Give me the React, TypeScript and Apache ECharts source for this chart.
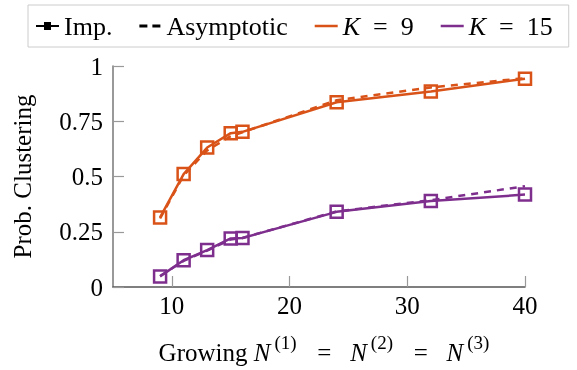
import React, { useEffect, useRef } from "react";
import * as echarts from "echarts";

const nValues = [9, 11, 13, 15, 16, 24, 32, 40];
const k9Imp = [0.315, 0.511, 0.631, 0.696, 0.702, 0.836, 0.885, 0.942];
const k9Asym = [0.31, 0.505, 0.618, 0.683, 0.7, 0.845, 0.903, 0.945];
const k15Imp = [0.048, 0.121, 0.167, 0.22, 0.222, 0.34, 0.389, 0.418];
const k15Asym = [0.05, 0.118, 0.165, 0.215, 0.222, 0.342, 0.393, 0.456];
const xTicks = [10, 20, 30, 40];
const legendNames = ["Imp.", "Asymptotic", "K9", "K15"];

const ORANGE = "#D95319";
const PURPLE = "#7E2F8E";
const FONT = "serif";

const pairs = (ys: number[]) => nValues.map((x, i) => [x, ys[i]]);

const ICON_IMP = "path://M0,4 L23,4 L23,6 L0,6 Z M8,1 L15,1 L15,9 L8,9 Z";
const ICON_DASH = "path://M0,3.5 L8,3.5 L8,6.5 L0,6.5 Z M13,3.5 L21,3.5 L21,6.5 L13,6.5 Z M0,0 L0,0.01 L0.01,0 Z M0,10 L0,9.99 L0.01,10 Z";
const ICON_LINE = "path://M0,3.8 L23,3.8 L23,6.2 L0,6.2 Z M0,0 L0,0.01 L0.01,0 Z M0,10 L0,9.99 L0.01,10 Z";

export default function App() {
  const ref = useRef<HTMLDivElement>(null);
  useEffect(() => {
    const chart = echarts.init(ref.current!, null, { renderer: "svg" });
    const impSeries = (name: string, color: string, ys: number[]) => ({
      name,
      type: "line",
      data: pairs(ys),
      symbol: "rect",
      symbolSize: 12,
      z: 3,
      lineStyle: { color, width: 2.5 },
      itemStyle: { color: "rgba(0,0,0,0)", borderColor: color, borderWidth: 2.5 },
    });
    const asymSeries = (name: string, color: string, ys: number[]) => ({
      name,
      type: "line",
      data: pairs(ys),
      symbol: "none",
      z: 2,
      lineStyle: { color, width: 2.5, type: [7, 6] },
    });
    const dummy = (name: string, color: string) => ({
      name,
      type: "line",
      data: [],
      symbol: "none",
      lineStyle: { color, width: 2.5 },
      itemStyle: { color },
    });
    const richBase = { fontFamily: FONT, fontSize: 25, color: "#000" };
    const legendBase = { fontFamily: FONT, fontSize: 26, color: "#000" };
    chart.setOption({
      animation: false,
      textStyle: { fontFamily: FONT },
      grid: { left: 113, right: 52, top: 66, bottom: 82 },
      legend: {
        data: [
          { name: legendNames[0], icon: ICON_IMP },
          { name: legendNames[1], icon: ICON_DASH },
          { name: legendNames[2], icon: ICON_LINE },
          { name: legendNames[3], icon: ICON_LINE },
        ],
        left: 28,
        top: 5,
        width: 545,
        padding: [8, 16, 8, 8],
        itemGap: 27,
        itemWidth: 23,
        itemHeight: 10,
        borderColor: "#cccccc",
        borderWidth: 1,
        selectedMode: false,
        textStyle: {
          ...legendBase,
          rich: {
            t: { ...legendBase },
            i: { ...legendBase, fontStyle: "italic" },
          },
        },
        formatter: (name: string) => {
          if (name === "K9") return "{i|K}{t|  =  9}";
          if (name === "K15") return "{i|K}{t|  =  15}";
          return "{t|" + name + "}";
        },
      },
      xAxis: {
        type: "value",
        min: 5,
        max: 40,
        name: "{t|Growing }{i|N}{s|(1)}{t|   =   }{i|N}{s|(2)}{t|   =   }{i|N}{s|(3)}",
        nameLocation: "middle",
        nameGap: 46,
        nameTextStyle: {
          ...richBase,
          verticalAlign: "top",
          padding: [0, 0, 0, 12],
          rich: {
            t: { ...richBase, lineHeight: 32, verticalAlign: "bottom" },
            i: { ...richBase, fontStyle: "italic", lineHeight: 32, verticalAlign: "bottom", padding: [0, 1, 0, 0] },
            s: { ...richBase, fontSize: 19, lineHeight: 18, verticalAlign: "top", padding: [0, 2, 0, 3] },
          },
        },
        axisLine: { lineStyle: { color: "#555", width: 1.5 } },
        axisTick: { inside: true, length: 11, customValues: xTicks, lineStyle: { color: "#999", width: 1.2 } },
        axisLabel: { customValues: xTicks, margin: 6, ...richBase },
        splitLine: { show: false },
      },
      yAxis: {
        type: "value",
        min: 0,
        max: 1,
        interval: 0.25,
        name: "Prob. Clustering",
        nameLocation: "middle",
        nameGap: 78,
        nameTextStyle: { ...richBase },
        axisLine: { show: true, lineStyle: { color: "#777", width: 1.5 } },
        axisTick: { show: true, inside: true, length: 11, lineStyle: { color: "#999", width: 1.2 } },
        axisLabel: { margin: 10, ...richBase, formatter: (v: number) => String(v) },
        splitLine: { show: false },
      },
      series: [
        dummy("Imp.", "#000"),
        dummy("Asymptotic", "#000"),
        dummy("K9", ORANGE),
        dummy("K15", PURPLE),
        asymSeries("k9asym", ORANGE, k9Asym),
        asymSeries("k15asym", PURPLE, k15Asym),
        impSeries("k9imp", ORANGE, k9Imp),
        impSeries("k15imp", PURPLE, k15Imp),
      ],
    });
    return () => chart.dispose();
  }, []);
  return <div ref={ref} style={{ position: "fixed", left: 0, top: 0, width: 577, height: 370 }} />;
}
